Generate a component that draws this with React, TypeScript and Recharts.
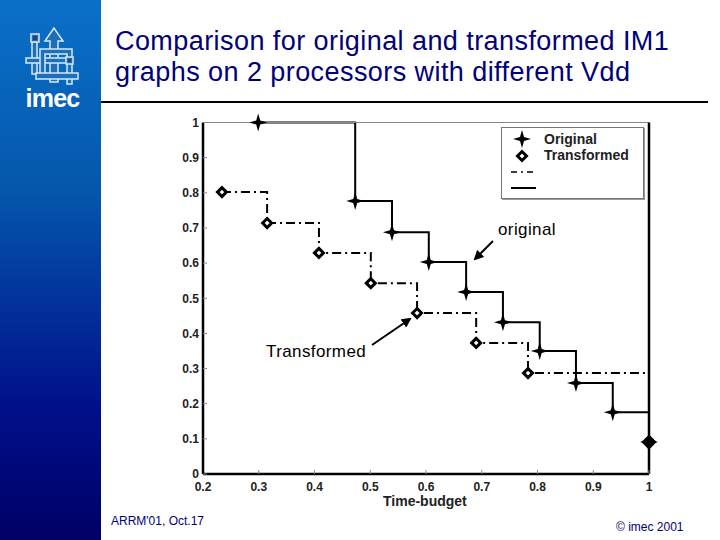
import { ComposedChart, Line, XAxis, YAxis, Legend } from 'recharts';

const originalX = [0.299, 0.473, 0.539, 0.605, 0.672, 0.738, 0.804, 0.869, 0.935, 1];
const originalY = [1, 0.777, 0.688, 0.603, 0.518, 0.432, 0.35, 0.259, 0.176, 0.091];
const transformedX = [0.234, 0.315, 0.408, 0.501, 0.584, 0.69, 0.783, 1];
const transformedY = [0.802, 0.714, 0.629, 0.543, 0.458, 0.373, 0.287, 0.091];
const xTicks = [0.2, 0.3, 0.4, 0.5, 0.6, 0.7, 0.8, 0.9, 1];
const yTicks = [0, 0.1, 0.2, 0.3, 0.4, 0.5, 0.6, 0.7, 0.8, 0.9, 1];
const legendNames = ['Original', 'Transformed', '', ''];

const originalData = originalX.map((x, i) => ({ x, y: originalY[i] }));
const transformedData = transformedX.map((x, i) => ({ x, y: transformedY[i] }));

const tickStyle = { fontSize: 12, fontWeight: 700, fontFamily: 'Liberation Sans', fill: '#222' };
const fmt = (v: number) => String(v);

function Star({ cx, cy, size = 9 }: any) {
  const s = size;
  const w = 2;
  return (
    <path
      d={`M${cx - s} ${cy} L${cx - w} ${cy - w} L${cx} ${cy - s} L${cx + w} ${cy - w} L${cx + s} ${cy} L${cx + w} ${cy + w} L${cx} ${cy + s} L${cx - w} ${cy + w} Z`}
      fill="#000"
    />
  );
}

function Diamond({ cx, cy, size = 5, solid = false }: any) {
  return (
    <path
      d={`M${cx - size} ${cy} L${cx} ${cy - size} L${cx + size} ${cy} L${cx} ${cy + size} Z`}
      fill={solid ? '#000' : '#fff'}
      stroke="#000"
      strokeWidth={3}
    />
  );
}

function LegendBox() {
  return (
    <div style={{ position: 'relative', width: 143, height: 72, background: '#fff', border: '1px solid #777', boxSizing: 'border-box', boxShadow: '1px 1px 0 #999' }}>
      <svg width={141} height={70} style={{ position: 'absolute', left: 0, top: 0 }}>
        <Star cx={20} cy={11} size={9} />
        <Diamond cx={20} cy={28} size={4.5} />
        <line x1={9} x2={34} y1={44} y2={44} stroke="#000" strokeWidth={1.5} strokeDasharray="6 4 2 4" />
        <line x1={9} x2={34} y1={60} y2={60} stroke="#000" strokeWidth={2} />
      </svg>
      {legendNames.map((name, i) => (
        <div key={i} style={{ position: 'absolute', left: 42, top: 3 + i * 16, fontSize: 14, fontWeight: 700, lineHeight: '16px', color: '#222', fontFamily: 'Liberation Sans' }}>
          {name}
        </div>
      ))}
    </div>
  );
}

function Logo() {
  const c = '#d5e8f7';
  const f = '#1f6fb8';
  return (
    <svg width={101} height={120} style={{ position: 'absolute', left: 0, top: 0 }}>
      <g fill={f} stroke={c} strokeWidth={1.5}>
        <rect x={32} y={42} width={5} height={32} />
        <path d="M54 28 L45 41 L50 41 L50 82 L58 82 L58 41 L63 41 Z" />
        <rect x={26} y={58} width={46} height={5} />
        <path d="M40 74 L40 49 L72 49 L72 84 L67 84 L67 54 L45 54 L45 74 Z" />
        <rect x={36} y={73} width={42} height={6} />
        <rect x={31} y={34} width={8} height={8} />
        <rect x={66} y={57} width={7} height={7} />
      </g>
      <rect x={33} y={36} width={4} height={4} fill="#2b3f70" />
      <rect x={68} y={59} width={3} height={3} fill="#2b3f70" />
      <text x={52.5} y={107} textAnchor="middle" fontFamily="Liberation Sans" fontWeight={700} fontSize={25} fill="#fff" letterSpacing={-0.8}>
        imec
      </text>
    </svg>
  );
}

function Arrows() {
  return (
    <svg width={720} height={540} style={{ position: 'absolute', left: 0, top: 0, pointerEvents: 'none' }}>
      <defs>
        <marker id="head" markerWidth={5} markerHeight={5} refX={4} refY={2.5} orient="auto">
          <path d="M0 0 L5 2.5 L0 5 Z" fill="#000" />
        </marker>
      </defs>
      <line x1={493} y1={241} x2={475} y2={259} stroke="#000" strokeWidth={2} markerEnd="url(#head)" />
      <line x1={372} y1={345} x2={410} y2={319} stroke="#000" strokeWidth={2} markerEnd="url(#head)" />
    </svg>
  );
}

const textBase = { position: 'absolute', fontFamily: 'Liberation Sans', whiteSpace: 'nowrap' } as const;

export default function App() {
  return (
    <div style={{ position: 'fixed', left: 0, top: 0, width: 720, height: 540, background: '#fff', overflow: 'hidden' }}>
      <div style={{ position: 'absolute', left: 0, top: 0, width: 101, height: 540, background: 'linear-gradient(180deg, #0a70c8 0%, #0557ad 35%, #00108a 75%, #000066 100%)' }} />
      <Logo />
      <div style={{ ...textBase, left: 115, top: 26, fontSize: 27, letterSpacing: 0.43, lineHeight: '31px', color: '#00007a' }}>
        Comparison for original and transformed IM1
        <br />
        graphs on 2 processors with different Vdd
      </div>
      <div style={{ position: 'absolute', left: 101, top: 101, width: 607, height: 2, background: '#000' }} />

      <div style={{ position: 'absolute', left: 0, top: 0 }}>
        <ComposedChart width={720} height={540} margin={{ top: 121.5, right: 70, bottom: 36, left: 163 }}>
          <XAxis
            xAxisId="t"
            orientation="top"
            dataKey="x"
            type="number"
            domain={[0.2, 1]}
            ticks={xTicks}
            height={1}
            tick={false}
            tickSize={-4}
            axisLine={{ stroke: '#888', strokeWidth: 1 }}
            tickLine={{ stroke: '#888' }}
          />
          <YAxis
            yAxisId="r"
            orientation="right"
            type="number"
            domain={[0, 1]}
            ticks={yTicks}
            width={1}
            tick={false}
            tickSize={-4}
            axisLine={{ stroke: '#000', strokeWidth: 2.5 }}
            tickLine={{ stroke: '#888' }}
          />
          <XAxis
            xAxisId="b"
            dataKey="x"
            type="number"
            domain={[0.2, 1]}
            ticks={xTicks}
            tickFormatter={fmt}
            height={30}
            tick={tickStyle}
            tickSize={-4}
            tickMargin={12}
            axisLine={{ stroke: '#000', strokeWidth: 2.5 }}
            tickLine={{ stroke: '#888' }}
            interval={0}
          />
          <YAxis
            yAxisId="l"
            type="number"
            domain={[0, 1]}
            ticks={yTicks}
            tickFormatter={fmt}
            width={40}
            tick={tickStyle}
            tickSize={-4}
            tickMargin={8}
            axisLine={{ stroke: '#000', strokeWidth: 2.5 }}
            tickLine={{ stroke: '#888' }}
            interval={0}
          />
          <Legend
            layout="vertical"
            align="center"
            verticalAlign="middle"
            wrapperStyle={{ position: 'absolute', left: 501, top: 127, width: 143, height: 72 }}
            content={() => <LegendBox />}
          />
          <Line
            xAxisId="b"
            yAxisId="l"
            data={originalData}
            dataKey="y"
            name="Original"
            type="stepAfter"
            stroke="#000"
            strokeWidth={2}
            dot={(p: any) => <Star key={p.index} cx={p.cx} cy={p.cy} />}
            isAnimationActive={false}
          />
          <Line
            xAxisId="b"
            yAxisId="l"
            data={transformedData}
            dataKey="y"
            name="Transformed"
            type="stepAfter"
            stroke="#000"
            strokeWidth={2}
            strokeDasharray="9 4 2 4"
            dot={(p: any) => {
              const last = p.index === transformedData.length - 1;
              return <Diamond key={p.index} cx={p.cx} cy={p.cy} size={last ? 5.5 : 4.5} solid={last} />;
            }}
            isAnimationActive={false}
          />
        </ComposedChart>
      </div>

      <Arrows />
      <div style={{ ...textBase, left: 498, top: 220, fontSize: 17, letterSpacing: 0.4, lineHeight: '20px', color: '#000' }}>original</div>
      <div style={{ ...textBase, left: 266, top: 342, fontSize: 17, letterSpacing: 0.4, lineHeight: '20px', color: '#000' }}>Transformed</div>
      <div style={{ ...textBase, left: 383, top: 493, fontSize: 14, fontWeight: 700, lineHeight: '16px', color: '#222' }}>Time-budget</div>
      <div style={{ ...textBase, left: 111, top: 514, fontSize: 12, lineHeight: '14px', color: '#00007a' }}>ARRM'01, Oct.17</div>
      <div style={{ ...textBase, left: 616, top: 520, fontSize: 12, lineHeight: '14px', color: '#00007a' }}>© imec 2001</div>
    </div>
  );
}
